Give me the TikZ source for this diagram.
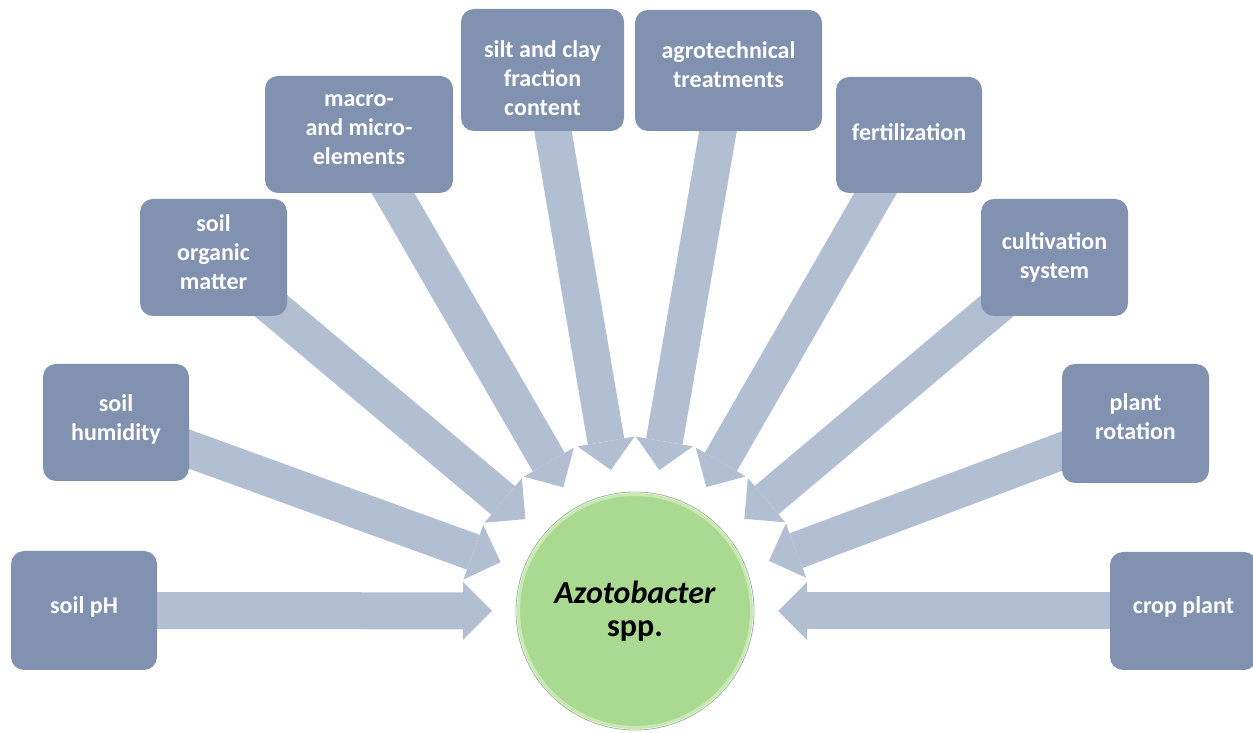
\documentclass[tikz,border=0pt]{standalone}
\usepackage{fontspec}
\setmainfont{Carlito}
\usetikzlibrary{arrows.meta,calc,backgrounds}
\definecolor{boxc}{HTML}{8191B0}
\definecolor{arrc}{HTML}{B2BED2}
\definecolor{circc}{HTML}{AAD991}
\definecolor{rimc}{HTML}{C8EAB2}
\definecolor{edgec}{HTML}{9FB59A}
\tikzset{
  fbox/.style={rectangle, rounded corners=13pt, fill=boxc, inner sep=0pt},
  lbl/.style={text=white, font=\fontsize{24}{29}\selectfont\bfseries,
    align=center, inner sep=0pt},
  bigarrow/.style={arrc, line width=37pt,
    -{Triangle[length=29pt,width=58pt,line width=0pt]}},
  hub/.style={circle, fill=circc, draw=rimc, line width=3pt, minimum size=233pt,
    inner sep=0pt, align=center, font=\fontsize{32}{33}\selectfont\bfseries}
}
\begin{document}
\begin{tikzpicture}[x=1pt,y=1pt]
\useasboundingbox (0,0) rectangle (1253,733);
\begin{scope}
\clip (0,0) rectangle (1253,733);
\node[fbox, minimum width=146pt, minimum height=119pt,
  label={[lbl,yshift=3.5pt]center:{soil pH}}] (ph) at (84,122.5) {};
\node[fbox, minimum width=146pt, minimum height=117pt,
  label={[lbl,yshift=3.5pt]center:{soil\\humidity}}] (hum) at (116,310.5) {};
\node[fbox, minimum width=147pt, minimum height=117pt,
  label={[lbl,yshift=5.5pt]center:{soil\\organic\\matter}}] (org) at (213.5,475.5) {};
\node[fbox, minimum width=188pt, minimum height=117pt,
  label={[lbl,yshift=4.5pt]center:{macro-\\and micro-\\elements}}] (mac) at (359,598.5) {};
\node[fbox, minimum width=163pt, minimum height=122pt,
  label={[lbl,yshift=-8.5pt]center:{silt and clay\\fraction\\content}}] (silt) at (542.5,663) {};
\node[fbox, minimum width=187pt, minimum height=121pt,
  label={[lbl,yshift=6pt]center:{agrotechnical\\treatments}}] (agro) at (728.5,662.5) {};
\node[fbox, minimum width=146pt, minimum height=116pt,
  label={[lbl,yshift=3pt]center:{fertilization}}] (fert) at (909,598) {};
\node[fbox, minimum width=147pt, minimum height=117pt,
  label={[lbl]center:{cultivation\\system}}] (cult) at (1054.5,475.5) {};
\node[fbox, minimum width=147pt, minimum height=119pt,
  label={[lbl,yshift=6.5pt]center:{plant\\rotation}}] (rot) at (1135.5,309.5) {};
\node[fbox, minimum width=147pt, minimum height=118pt,
  label={[lbl,yshift=4pt]center:{crop plant}}] (crop) at (1183.5,122) {};
\node[hub] (c) at (635,122) {\textit{Azotobacter}\\spp.};
\draw[edgec, line width=0.8pt] (c.center) circle (119pt);
\begin{scope}[on background layer]
\foreach \b in {ph,hum,org,mac,silt,agro,fert,cult,rot,crop}{
  \draw[bigarrow] (\b.center) -- ($(c.center)!143pt!(\b.center)$);
}
\end{scope}
\end{scope}
\end{tikzpicture}
\end{document}
